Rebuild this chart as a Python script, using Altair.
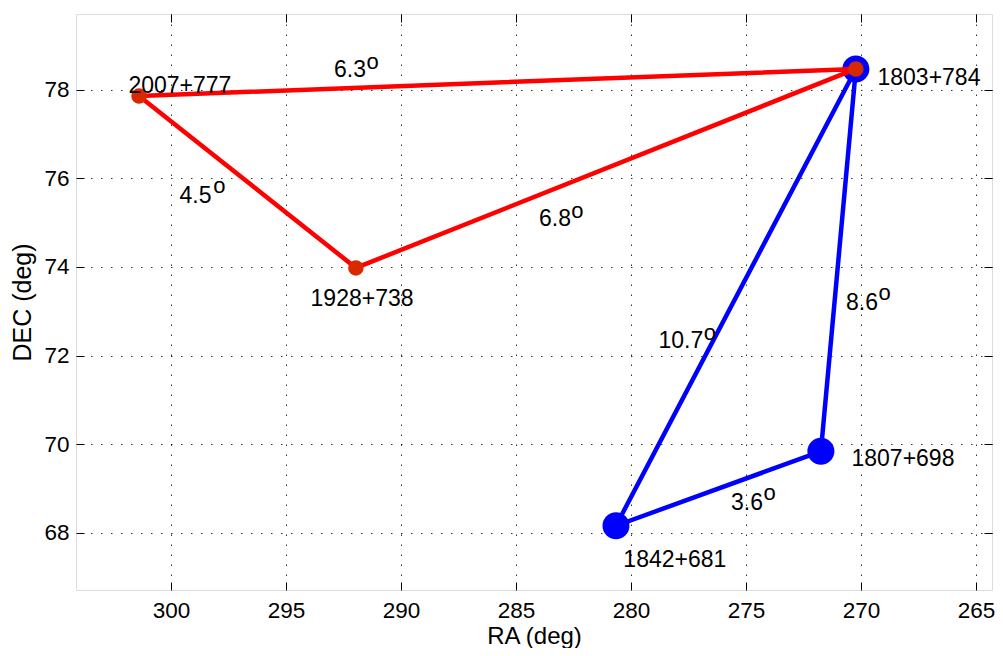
import altair as alt
import pandas as pd

# Source positions (RA, DEC in degrees)
names = ["1803+784", "2007+777", "1928+738", "1842+681", "1807+698"]
ra = [270.22, 301.39, 291.96, 280.65, 271.74]
dec = [78.47, 77.86, 73.98, 68.16, 69.84]

# Name label anchor points (data coordinates)
name_ra = [269.28, 301.85, 293.93, 280.33, 270.41]
name_dec = [78.11, 77.93, 73.11, 67.23, 69.50]

# Triangle paths
red_path = ["1803+784", "2007+777", "1928+738", "1803+784"]
blue_path = ["1803+784", "1842+681", "1807+698", "1803+784"]
red_nodes = ["2007+777", "1928+738", "1803+784"]
blue_nodes = ["1803+784", "1842+681", "1807+698"]

# Separation labels (number) and their superscript "o" anchors
seps = ["6.3", "4.5", "6.8", "10.7", "8.6", "3.6"]
sep_ra = [292.91, 299.63, 284.00, 278.80, 270.65, 275.65]
sep_dec = [78.29, 75.45, 74.93, 72.18, 73.02, 68.52]
sup_ra = [291.50, 298.16, 282.59, 276.83, 269.24, 274.24]
sup_dec = [78.47, 75.68, 75.11, 72.36, 73.26, 68.74]

x_ticks = [265, 270, 275, 280, 285, 290, 295, 300]
y_ticks = [68, 70, 72, 74, 76, 78]

FONT = "Liberation Sans"


def path_df(path):
    return pd.DataFrame({
        "name": path,
        "ra": [ra[names.index(n)] for n in path],
        "dec": [dec[names.index(n)] for n in path],
        "step": list(range(len(path))),
    })


def nodes_df(nodes):
    return pd.DataFrame({
        "name": nodes,
        "ra": [ra[names.index(n)] for n in nodes],
        "dec": [dec[names.index(n)] for n in nodes],
    })


labels_df = pd.DataFrame({"label": names, "ra": name_ra, "dec": name_dec})
seps_df = pd.DataFrame({"label": seps, "ra": sep_ra, "dec": sep_dec})
sup_df = pd.DataFrame({"label": ["o"] * len(seps), "ra": sup_ra, "dec": sup_dec})

xs = alt.Scale(domain=[264.30, 304.13], reverse=True, nice=False, zero=False)
ys = alt.Scale(domain=[66.71, 79.71], nice=False, zero=False)

common_axis = dict(
    offset=-8, tickSize=8, tickColor="#000", tickWidth=1, domain=False,
    labelFont=FONT, labelFontSize=22.5, labelColor="#000",
    titleFont=FONT, titleFontWeight="normal", titleColor="#000",
    gridColor="#000", gridDash=[1.5, 8.5], gridWidth=1, gridOpacity=0.8,
)

x_main = alt.X("ra:Q", scale=xs, axis=alt.Axis(
    title="RA (deg)", orient="bottom", values=x_ticks, format="d", grid=True,
    labelPadding=9, titlePadding=3, titleFontSize=24, **common_axis))
y_main = alt.Y("dec:Q", scale=ys, axis=alt.Axis(
    title="DEC (deg)", orient="left", values=y_ticks, format="d", grid=True,
    labelPadding=7, titlePadding=8, titleFontSize=25, **common_axis))

x_none = alt.X("ra:Q", scale=xs, axis=None)
y_none = alt.Y("dec:Q", scale=ys, axis=None)

blue_line = alt.Chart(path_df(blue_path)).mark_line(
    color="#0000FF", strokeWidth=4.5, strokeJoin="round").encode(
    x=x_main, y=y_main, order="step:Q")
blue_pts = alt.Chart(nodes_df(blue_nodes)).mark_circle(
    color="#0000FF", opacity=1, size=729).encode(x=x_none, y=y_none)
red_line = alt.Chart(path_df(red_path)).mark_line(
    color="#FF0000", strokeWidth=4.5, strokeJoin="round").encode(
    x=x_none, y=y_none, order="step:Q")
red_pts = alt.Chart(nodes_df(red_nodes)).mark_circle(
    color="#D92900", opacity=1, size=240).encode(x=x_none, y=y_none)

txt_style = dict(align="left", baseline="alphabetic", font=FONT, fontSize=23, color="#000")
name_txt = alt.Chart(labels_df).mark_text(**txt_style).encode(
    x=x_none, y=y_none, text="label:N")
sep_txt = alt.Chart(seps_df).mark_text(**txt_style).encode(
    x=x_none, y=y_none, text="label:N")
sup_txt = alt.Chart(sup_df).mark_text(
    align="left", baseline="alphabetic", font=FONT, fontSize=22, color="#000").encode(
    x=x_none, y=y_none, text="label:N")

frame_axes = alt.Chart(nodes_df(blue_nodes)).mark_point(opacity=0).encode(
    x=alt.X("ra:Q", scale=xs, axis=alt.Axis(
        orient="top", values=x_ticks, labels=False, title=None, grid=False, **common_axis)),
    y=alt.Y("dec:Q", scale=ys, axis=alt.Axis(
        orient="right", values=y_ticks, labels=False, title=None, grid=False, **common_axis)),
)

chart = alt.layer(
    blue_line, blue_pts, red_line, red_pts, name_txt, sep_txt, sup_txt, frame_axes
).resolve_axis(x="independent", y="independent").properties(
    width=916, height=576,
    autosize=alt.AutoSizeParams(type="none"),
    padding={"left": 68, "top": 6, "right": 3, "bottom": 58},
).configure_view(stroke="#000", strokeWidth=1.6).configure(background="white")

chart.save("out.html", embed_options={"renderer": "svg", "actions": False})
